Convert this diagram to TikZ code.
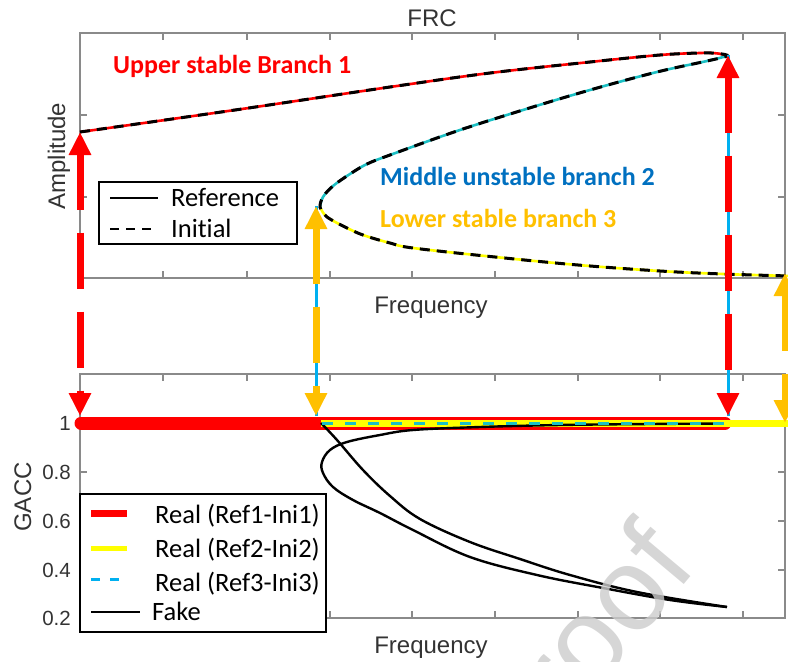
\documentclass[tikz,border=0pt]{standalone}
\usepackage{fontspec}
\setmainfont{Liberation Sans}
\newfontfamily\calfont[Ligatures=NoCommon]{Carlito}
\usetikzlibrary{arrows.meta}
\definecolor{myred}{HTML}{FF0000}
\definecolor{myorange}{HTML}{FFC000}
\definecolor{skyb}{HTML}{00B0F0}
\definecolor{tealc}{HTML}{1CC0C4}
\definecolor{blueT}{HTML}{0070C0}
\definecolor{yel}{HTML}{FFFF00}
\definecolor{axgray}{HTML}{8A8A8A}
\definecolor{labgray}{HTML}{333333}
\begin{document}
\begin{tikzpicture}[x=1pt,y=-1pt,
  axisline/.style={draw=axgray,line width=1.3pt},
  bigarrow/.style={line width=7pt,dash pattern=on 56.5pt off 22.5pt,
     {Triangle[width=21pt,length=23pt]}-{Triangle[width=21pt,length=23pt]}},
  thinblue/.style={draw=skyb,line width=3pt},
  colcurve/.style={line width=2.6pt},
  blkdash/.style={draw=black,line width=3pt,dash pattern=on 10pt off 7pt},
  fake/.style={draw=black,line width=2.4pt},
  legbox/.style={draw=black,line width=1.5pt,fill=white},
  legtext/.style={anchor=base west,inner sep=0pt,font=\calfont\fontsize{26.5}{26.5}\selectfont},
  annot/.style={anchor=base west,inner sep=0pt,font=\calfont\bfseries\fontsize{26}{26}\selectfont},
  axlabel/.style={inner sep=0pt,text=labgray,font=\fontsize{24}{24}\selectfont},
  ticklab/.style={anchor=east,inner sep=0pt,text=labgray,font=\fontsize{20.5}{20.5}\selectfont}
]
\useasboundingbox (0,0) rectangle (788,662);
\clip (0,0) rectangle (788,662);

% ---------- axes ----------
\draw[axisline] (80,33) rectangle (785,278);
\draw[axisline] (80,374) rectangle (785,618);
\foreach \xx in {163,247,330,412,495,578,660,743}{
  \draw[axisline] (\xx,33) -- (\xx,40);
  \draw[axisline] (\xx,278) -- (\xx,271);
  \draw[axisline] (\xx,374) -- (\xx,381);
  \draw[axisline] (\xx,618) -- (\xx,611);
}
\foreach \yy in {115,197}{
  \draw[axisline] (80,\yy) -- (87,\yy);
  \draw[axisline] (785,\yy) -- (778,\yy);
}
\foreach \yy in {423,472,521,570}{
  \draw[axisline] (80,\yy) -- (87,\yy);
  \draw[axisline] (785,\yy) -- (778,\yy);
}

% ---------- FRC curves ----------
\draw[colcurve,draw=myred] plot[smooth,tension=0.6] coordinates
  {(80,132) (235,110) (390,87) (490,73) (590,62) (660,55) (700,53) (718,53.5) (727,56)};
\draw[colcurve,draw=tealc] plot[smooth,tension=0.6] coordinates
  {(727,56) (707,61) (657,72) (590,90) (523,110) (457,131) (390,155) (367,164) (350,174) (333,186) (323,197) (320,207)};
\draw[colcurve,draw=yel] plot[smooth,tension=0.6] coordinates
  {(320,207) (324,214) (330,219) (345,227) (363,235) (390,243) (413,248) (495,257) (578,265) (660,271) (723,274) (790,276)};
\draw[blkdash] plot[smooth,tension=0.6] coordinates
  {(80,132) (235,110) (390,87) (490,73) (590,62) (660,55) (700,53) (718,53.5) (727,56)
   (707,61) (657,72) (590,90) (523,110) (457,131) (390,155) (367,164) (350,174) (333,186) (323,197) (320,207)
   (324,214) (330,219) (345,227) (363,235) (390,243) (413,248) (495,257) (578,265) (660,271) (723,274) (790,276)};

% ---------- GACC curves ----------
\draw[myred,line width=13pt,line cap=round] (81,423) -- (725,423);
\draw[yel,line width=7pt] (321,423) -- (790,423);
\draw[fake] plot[smooth,tension=0.6] coordinates
  {(321,423) (337,440) (363,470) (390,496) (420,519) (470,542) (520,559) (570,575) (637,592) (727,607)};
\draw[fake] plot[smooth,tension=0.6] coordinates
  {(722,423.5) (650,424) (560,425) (480,427) (413,430) (380,435) (347,442) (330,450) (322,462) (323,473) (333,487) (353,500) (380,513) (413,530) (470,557) (537,575) (603,588) (670,600) (727,607)};
\draw[tealc,line width=3pt,dash pattern=on 11pt off 12pt] (322,423) -- (725,423);

% ---------- transition arrows ----------
\coordinate (a1t) at (80,132);  \coordinate (a1b) at (80,416);
\coordinate (a2t) at (316,206); \coordinate (a2b) at (316,416);
\coordinate (a3t) at (728,55);  \coordinate (a3b) at (728,416);
\coordinate (a4t) at (785,273); \coordinate (a4b) at (785,423);
\draw[thinblue] (a2t) -- (a2b);
\draw[thinblue] (a3t) -- (a3b);
\draw[bigarrow,myred] (a1t) -- (a1b);
\draw[bigarrow,myorange] (a2t) -- (a2b);
\draw[bigarrow,myred] (a3t) -- (a3b);
\draw[bigarrow,myorange] (a4t) -- (a4b);

% ---------- legend 1 ----------
\draw[legbox] (99,182) rectangle (297,244);
\draw[black,line width=2.5pt] (110,198) -- (158,198);
\draw[black,line width=2.5pt,dash pattern=on 9pt off 7pt] (110,229) -- (158,229);
\node[legtext] (lref) at (171,206) {Reference};
\node[legtext] (lini) at (171,237) {Initial};

% ---------- legend 2 ----------
\draw[legbox] (80,494) rectangle (326,632);
\draw[myred,line width=7pt] (91,513) -- (127,513);
\draw[yel,line width=5pt] (91,548) -- (127,548);
\draw[skyb,line width=3pt,dash pattern=on 9pt off 10pt] (91,579) -- (121,579);
\draw[black,line width=2.5pt] (91,612) -- (140,612);
\node[legtext] (lr1) at (155,523) {Real (Ref1-Ini1)};
\node[legtext] (lr2) at (155,557) {Real (Ref2-Ini2)};
\node[legtext] (lr3) at (155,591) {Real (Ref3-Ini3)};
\node[legtext] (lfk) at (152,620) {Fake};

% ---------- annotations ----------
\node[annot,text=myred] (b1) at (113,73) {Upper stable Branch 1};
\node[annot,text=blueT] (b2) at (380,185) {Middle unstable branch 2};
\node[annot,text=myorange] (b3) at (380,227) {Lower stable branch 3};

% ---------- axis labels ----------
\node[axlabel,anchor=base] (frc) at (432,26) {FRC};
\node[axlabel,anchor=base] (fq1) at (431,313) {Frequency};
\node[axlabel,anchor=base] (fq2) at (431,653) {Frequency};
\node[axlabel,anchor=base,rotate=90] (amp) at (65,156) {Amplitude};
\node[axlabel,anchor=base,rotate=90] (gacc) at (31,497) {GACC};
\node[ticklab] (y1) at (71,423) {1};
\node[ticklab] (y2) at (71,472) {0.8};
\node[ticklab] (y3) at (71,521) {0.6};
\node[ticklab] (y4) at (71,570) {0.4};
\node[ticklab] (y5) at (71,618) {0.2};

% ---------- watermark ----------
\node[anchor=base west,inner sep=0pt,rotate=50,text=black!20,text opacity=0.8,
      font=\fontsize{118}{118}\selectfont] (wm) at (526,774) {proof};
\end{tikzpicture}
\end{document}
